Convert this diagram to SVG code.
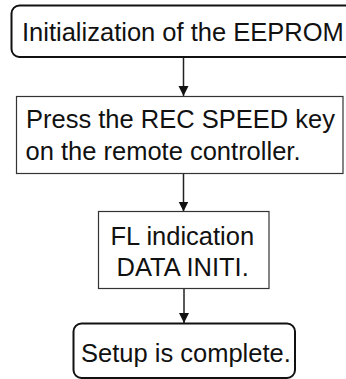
<svg xmlns="http://www.w3.org/2000/svg" width="346" height="379" viewBox="0 0 346 379">
<style>
text{font-family:"Liberation Sans",Arial,sans-serif;font-size:25.5px;fill:#111}
.rt{fill:#fff;stroke:#111;stroke-width:2}
.bx{fill:#fff;stroke:#333;stroke-width:1.2}
.cn{stroke:#222;stroke-width:1.5;fill:none}
</style>
<defs>
<marker id="ah" markerUnits="userSpaceOnUse" markerWidth="10" markerHeight="11" refX="10" refY="5" orient="auto" viewBox="0 0 10 10">
<path d="M0,0 L10,5 L0,10 Z" fill="#111"/>
</marker>
</defs>
<rect width="346" height="379" fill="#fff"/>
<g id="connectors">
<line class="cn" x1="183.5" y1="57" x2="183.5" y2="96" marker-end="url(#ah)"/>
<line class="cn" x1="183.5" y1="173.5" x2="183.5" y2="211.5" marker-end="url(#ah)"/>
<line class="cn" x1="184" y1="288.5" x2="184" y2="323" marker-end="url(#ah)"/>
</g>
<g id="n1">
<rect class="rt" x="11.5" y="5.5" width="345" height="51.5" rx="8"/>
<text x="22" y="40.5">Initialization of the EEPROM</text>
</g>
<g id="n2">
<rect class="bx" x="16.5" y="96.5" width="326.5" height="77"/>
<text x="26" y="128">Press the REC SPEED key</text>
<text x="25.5" y="159.5">on the remote controller.</text>
</g>
<g id="n3">
<rect class="bx" x="98.5" y="211.5" width="170.5" height="77"/>
<text x="110.5" y="245">FL indication</text>
<text x="116.5" y="275.5">DATA INITI.</text>
</g>
<g id="n4">
<rect class="rt" x="73.5" y="323.5" width="221.5" height="54.5" rx="8"/>
<text x="81" y="361.5">Setup is complete.</text>
</g>
</svg>
